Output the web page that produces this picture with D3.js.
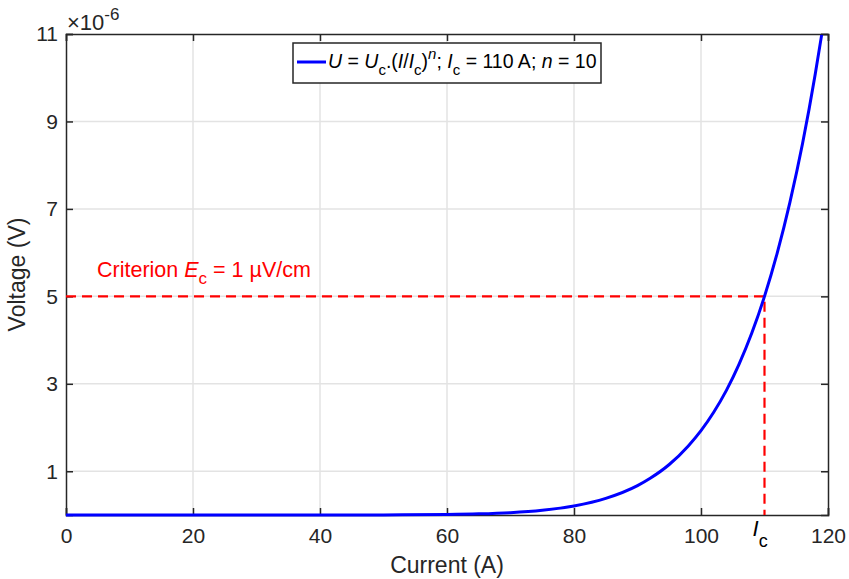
<!DOCTYPE html>
<html>
<head>
<meta charset="utf-8">
<script src="https://cdn.jsdelivr.net/npm/d3@7"></script>
<style>
  body { margin: 0; background: #fff; }
  text { font-family: "Liberation Sans", Arial, sans-serif; }
</style>
</head>
<body>
<script>
// current (A) and voltage (x1e-6 V)
let current = [0, 10, 20, 30, 40, 50, 60, 65, 70, 75, 80, 85, 90, 92, 95, 98, 100, 102, 104, 106, 108, 110, 112, 114, 116, 118, 119];
let voltage = [0, 0, 0, 0.00001, 0.0002, 0.0019, 0.012, 0.026, 0.054, 0.109, 0.207, 0.38, 0.672, 0.84, 1.155, 1.58, 1.93, 2.35, 2.85, 3.45, 4.16, 5, 5.99, 7.15, 8.5, 10.09, 10.98];
let xTicks = [0, 20, 40, 60, 80, 100, 120];
let yTicks = [1, 3, 5, 7, 9, 11];
let critI = 110;
let critU = 5;

let width = 849;
let height = 579;
let margin = {top: 34, right: 21, bottom: 64, left: 66};

let x = d3.scaleLinear()
          .domain([0, 120])
          .range([margin.left, width - margin.right]);
let y = d3.scaleLinear()
          .domain([0, 11])
          .range([height - margin.bottom, margin.top]);

let svg = d3.select("body")
            .append("svg")
            .attr("width", width)
            .attr("height", height);

let axisCol = "#262626";
let gridCol = "#e3e3e3";

// grid
svg.append("g")
   .selectAll("line.gx")
   .data(xTicks.slice(1, -1))
   .enter().append("line")
   .attr("x1", d => x(d)).attr("x2", d => x(d))
   .attr("y1", y(0)).attr("y2", y(11))
   .attr("stroke", gridCol).attr("stroke-width", 1.5);
svg.append("g")
   .selectAll("line.gy")
   .data(yTicks.slice(0, -1))
   .enter().append("line")
   .attr("x1", x(0)).attr("x2", x(120))
   .attr("y1", d => y(d)).attr("y2", d => y(d))
   .attr("stroke", gridCol).attr("stroke-width", 1.5);

// axes, ticks inward
let tickLen = 7;
let fmt = d => d;
let xAxis = svg.append("g")
   .attr("transform", `translate(0,${y(0)})`)
   .call(d3.axisBottom(x).tickValues(xTicks).tickSize(-tickLen).tickPadding(13).tickFormat(fmt));
let xTop = svg.append("g")
   .attr("transform", `translate(0,${y(11)})`)
   .call(d3.axisTop(x).tickValues(xTicks).tickSize(-tickLen).tickFormat(""));
let yAxis = svg.append("g")
   .attr("transform", `translate(${x(0)},0)`)
   .call(d3.axisLeft(y).tickValues(yTicks).tickSize(-tickLen).tickPadding(8).tickFormat(fmt));
let yRight = svg.append("g")
   .attr("transform", `translate(${x(120)},0)`)
   .call(d3.axisRight(y).tickValues(yTicks).tickSize(-tickLen).tickFormat(""));

[xAxis, xTop, yAxis, yRight].forEach(g => {
  g.select(".domain").attr("stroke", axisCol).attr("stroke-width", 1.5);
  g.selectAll(".tick line").attr("stroke", axisCol).attr("stroke-width", 1.5);
  g.selectAll(".tick text")
   .attr("fill", axisCol)
   .style("font-size", "21px")
   .style("font-family", "Liberation Sans, Arial, sans-serif");
});

// exponent label
let ex = svg.append("text")
   .attr("x", x(0) + 1)
   .attr("y", 30)
   .attr("fill", axisCol)
   .style("font-size", "22px");
ex.append("tspan").text("\u00d710");
ex.append("tspan").attr("dy", -10).style("font-size", "17px").text("-6");

// axis labels
svg.append("text")
   .attr("x", (x(0) + x(120)) / 2)
   .attr("y", 573)
   .attr("text-anchor", "middle")
   .attr("fill", axisCol)
   .style("font-size", "23px")
   .text("Current (A)");
svg.append("text")
   .attr("transform", `translate(25,${(y(0) + y(11)) / 2}) rotate(-90)`)
   .attr("text-anchor", "middle")
   .attr("fill", axisCol)
   .style("font-size", "23px")
   .text("Voltage (V)");

// criterion lines
svg.append("path")
   .attr("d", d3.line()([[x(0), y(critU)], [x(critI), y(critU)], [x(critI), y(0)]]))
   .attr("fill", "none")
   .attr("stroke", "#ff0000")
   .attr("stroke-width", 2.2)
   .attr("stroke-dasharray", "10,6");

let crit = svg.append("text")
   .attr("x", 97)
   .attr("y", 277)
   .attr("fill", "#ff0000")
   .style("font-size", "21.5px");
crit.append("tspan").text("Criterion ");
crit.append("tspan").style("font-style", "italic").text("E");
crit.append("tspan").attr("dy", 7).style("font-size", "17px").text("c");
crit.append("tspan").attr("dy", -7).text(" = 1 \u00b5V/cm");

// curve
let pts = current.map((c, i) => [c, voltage[i]]);
svg.append("path")
   .datum(pts)
   .attr("fill", "none")
   .attr("stroke", "#0000ff")
   .attr("stroke-width", 3)
   .attr("d", d3.line().x(d => x(d[0])).y(d => y(d[1])).curve(d3.curveMonotoneX));

// Ic label
let ic = svg.append("text")
   .attr("x", x(critI) - 12)
   .attr("y", 536)
   .attr("fill", "#000")
   .style("font-size", "22px");
ic.append("tspan").style("font-style", "italic").text("I");
ic.append("tspan").attr("dy", 11).style("font-size", "18px").text("c");

// legend
let lg = svg.append("g");
lg.append("rect")
  .attr("x", 293).attr("y", 43)
  .attr("width", 308).attr("height", 40)
  .attr("fill", "#fff")
  .attr("stroke", axisCol)
  .attr("stroke-width", 1.5);
lg.append("line")
  .attr("x1", 297).attr("x2", 326)
  .attr("y1", 62).attr("y2", 62)
  .attr("stroke", "#0000ff").attr("stroke-width", 3);
let lt = lg.append("text")
  .attr("x", 328)
  .attr("y", 68)
  .attr("fill", "#000")
  .style("font-size", "19.5px");
lt.append("tspan").style("font-style", "italic").text("U");
lt.append("tspan").text(" = ");
lt.append("tspan").style("font-style", "italic").text("U");
lt.append("tspan").attr("dy", 7).style("font-size", "15px").text("c");
lt.append("tspan").attr("dy", -7).text(".(");
lt.append("tspan").style("font-style", "italic").text("I");
lt.append("tspan").text("/");
lt.append("tspan").style("font-style", "italic").text("I");
lt.append("tspan").attr("dy", 7).style("font-size", "15px").text("c");
lt.append("tspan").attr("dy", -7).text(")");
lt.append("tspan").attr("dy", -9).style("font-size", "15px").style("font-style", "italic").text("n");
lt.append("tspan").attr("dy", 9).text("; ");
lt.append("tspan").style("font-style", "italic").text("I");
lt.append("tspan").attr("dy", 7).style("font-size", "15px").text("c");
lt.append("tspan").attr("dy", -7).text(" = 110 A; ");
lt.append("tspan").style("font-style", "italic").text("n");
lt.append("tspan").text(" = 10");
</script>
</body>
</html>
